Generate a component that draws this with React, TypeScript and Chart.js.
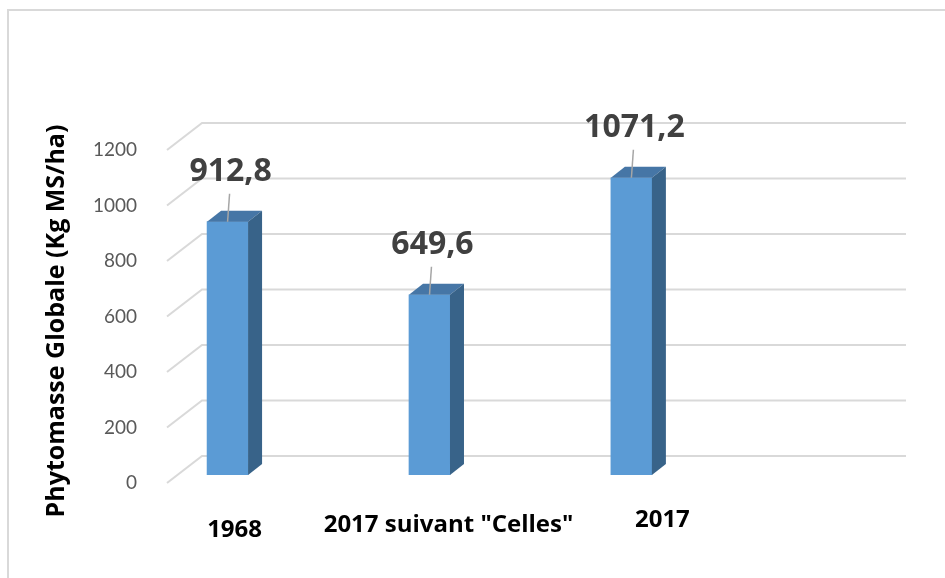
import React, { useEffect, useRef } from "react";
import { Chart, registerables } from "chart.js";

Chart.register(...registerables);

const categories = ["1968", "2017 suivant \"Celles\"", "2017"];
const values = [912.8, 649.6, 1071.2];
const valueLabels = ["912,8", "649,6", "1071,2"];
const yTicks = [0, 200, 400, 600, 800, 1000, 1200];
const yTitle = "Phytomasse Globale (Kg MS/ha)";

const FONT = "Lato, 'Open Sans', sans-serif";
const BOLD_FONT = "'Open Sans', Lato, sans-serif";
const DEPTH_X = 35; // wall depth
const DEPTH_Y = 27;
const WALL_SHIFT = 19; // back wall above bar front plane
const BAR_DX = 14;
const BAR_DY = -11;

const threeD = {
  id: "threeD",
  beforeDraw(chart: any) {
    const { ctx, width, height } = chart;
    ctx.save();
    ctx.fillStyle = "#ffffff";
    ctx.fillRect(0, 0, width, height);
    ctx.fillStyle = "#d9d9d9";
    ctx.fillRect(7, 9, width - 7, 2);
    ctx.fillRect(7, 9, 2, height - 9);
    ctx.restore();
  },
  beforeDatasetsDraw(chart: any) {
    const { ctx, chartArea } = chart;
    const y = chart.scales.y;
    ctx.save();
    ctx.strokeStyle = "#d9d9d9";
    ctx.lineWidth = 2;
    yTicks.forEach((v) => {
      const py = y.getPixelForValue(v);
      const backY = py - WALL_SHIFT;
      const frontY = backY + DEPTH_Y;
      ctx.beginPath();
      ctx.moveTo(chartArea.left, frontY);
      ctx.lineTo(chartArea.left + DEPTH_X, backY);
      ctx.lineTo(chartArea.right, backY);
      ctx.stroke();
    });
    ctx.restore();
  },
  afterDatasetsDraw(chart: any) {
    const { ctx } = chart;
    const meta = chart.getDatasetMeta(0);
    ctx.save();
    meta.data.forEach((bar: any, i: number) => {
      const w = bar.width;
      const l = bar.x - w / 2;
      const r = bar.x + w / 2;
      const t = bar.y;
      const b = bar.base;
      // top face
      ctx.fillStyle = "#4676a6";
      ctx.beginPath();
      ctx.moveTo(l, t);
      ctx.lineTo(r, t);
      ctx.lineTo(r + BAR_DX, t + BAR_DY);
      ctx.lineTo(l + BAR_DX, t + BAR_DY);
      ctx.closePath();
      ctx.fill();
      // side face
      ctx.fillStyle = "#386389";
      ctx.beginPath();
      ctx.moveTo(r, t);
      ctx.lineTo(r + BAR_DX, t + BAR_DY);
      ctx.lineTo(r + BAR_DX, b + BAR_DY);
      ctx.lineTo(r, b);
      ctx.closePath();
      ctx.fill();
      // leader line
      ctx.strokeStyle = "#a6a6a6";
      ctx.lineWidth = 1.5;
      ctx.beginPath();
      ctx.moveTo(bar.x, t);
      ctx.lineTo(bar.x + 2, t - 28);
      ctx.stroke();
      // value label
      ctx.fillStyle = "#404040";
      ctx.font = `bold 32px ${BOLD_FONT}`;
      ctx.textAlign = "center";
      ctx.textBaseline = "alphabetic";
      ctx.fillText(valueLabels[i], bar.x + 3, t - 41);
      // category label
      ctx.fillStyle = "#000000";
      ctx.font = `bold 24px ${BOLD_FONT}`;
      ctx.textBaseline = "middle";
      ctx.fillText(categories[i], bar.x + 7 + 12 * i, 530 - 5 * i);
    });
    // y axis title
    ctx.translate(64, 321);
    ctx.rotate(-Math.PI / 2);
    ctx.fillStyle = "#000000";
    ctx.font = `bold 25px ${BOLD_FONT}`;
    ctx.textAlign = "center";
    ctx.textBaseline = "alphabetic";
    ctx.fillText(yTitle, 0, 0);
    ctx.restore();
  },
};

export default function App() {
  const ref = useRef<HTMLCanvasElement>(null);
  useEffect(() => {
    if (!ref.current) return;
    const chart = new Chart(ref.current, {
      type: "bar",
      data: {
        datasets: [
          {
            data: values.map((v, i) => ({ x: i, y: v })),
            backgroundColor: "#5B9BD5",
            borderWidth: 0,
            barThickness: 41,
          },
        ],
      },
      options: {
        responsive: false,
        animation: false,
        layout: { padding: { left: 0, right: 39, top: 142, bottom: 103 } },
        plugins: { legend: { display: false }, tooltip: { enabled: false } },
        scales: {
          x: { type: "linear", display: false, offset: false, min: -0.3, max: 3.36 },
          y: {
            min: 0,
            max: 1200,
            ticks: {
              stepSize: 200,
              padding: 22,
              labelOffset: 8,
              color: "#595959",
              font: { family: FONT, size: 19 },
              callback: (v: any) => String(v),
            },
            grid: { display: false },
            border: { display: false },
            afterFit: (s: any) => {
              s.width = 167;
            },
          },
        },
      },
      plugins: [threeD],
    } as any);
    return () => chart.destroy();
  }, []);
  return (
    <div style={{ position: "absolute", left: 0, top: 0, width: 945, height: 578 }}>
      <canvas ref={ref} width={945} height={578} style={{ display: "block" }} />
    </div>
  );
}
